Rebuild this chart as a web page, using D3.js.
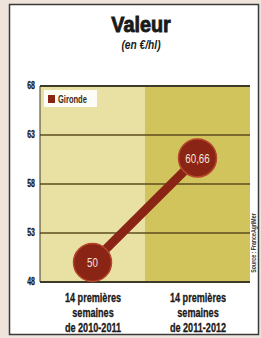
<!DOCTYPE html>
<html>
<head>
<meta charset="utf-8">
<script src="https://cdn.jsdelivr.net/npm/d3@7"></script>
<style>
  html, body { margin: 0; padding: 0; background: #efe4dc; }
  svg { display: block; }
  text { font-family: "Liberation Sans", Arial, sans-serif; }
</style>
</head>
<body>
<svg id="chart"></svg>
<script>
var categories = ["14 premières|semaines|de 2010-2011", "14 premières|semaines|de 2011-2012"];
var seriesName = "Gironde";
var values = [50, 60.66];
var valueLabels = ["50", "60,66"];
var yTicks = [48, 53, 58, 63, 68];

var W = 261, H = 338;
var margin = {top: 86, right: 11, bottom: 56, left: 40};
var width = W - margin.left - margin.right;
var height = H - margin.top - margin.bottom;

var svg = d3.select("#chart").attr("width", W).attr("height", H);

// narrow text: the original uses a condensed face, so squeeze horizontally
function narrow(parent, x, y, txt, size, sx) {
  return parent.append("text")
    .attr("transform", "translate(" + x + "," + y + ") scale(" + sx + ",1)")
    .style("font-size", size + "px")
    .text(txt);
}

// frame
svg.append("rect")
  .attr("x", 9.5).attr("y", 4.5)
  .attr("width", 249).attr("height", 330)
  .attr("fill", "#ffffff")
  .attr("stroke", "#3a3a3a")
  .attr("stroke-width", 1.5);

narrow(svg, 141, 32, "Valeur", 22, 0.9)
  .attr("text-anchor", "middle")
  .style("font-weight", "900")
  .attr("stroke", "#1a1a1a").attr("stroke-width", 0.9)
  .attr("fill", "#1a1a1a");

narrow(svg, 141, 49, "(en €/hl)", 12, 0.85)
  .attr("text-anchor", "middle")
  .style("font-weight", "bold").style("font-style", "italic")
  .attr("fill", "#1a1a1a");

var g = svg.append("g").attr("transform", "translate(" + margin.left + "," + margin.top + ")");

var x = d3.scalePoint().domain(categories).range([0, width]).padding(0.5);
var band = d3.scaleBand().domain(categories).range([0, width]);
var y = d3.scaleLinear().domain([48, 68]).range([height, 0]);

// background bands
var bandColors = ["#e9e1a3", "#d2c45c"];
g.selectAll("rect.bg").data(categories).enter().append("rect")
  .attr("class", "bg")
  .attr("x", d => band(d))
  .attr("y", 0)
  .attr("width", band.bandwidth())
  .attr("height", height)
  .attr("fill", (d, i) => bandColors[i]);

// grid lines
g.selectAll("line.grid").data(yTicks).enter().append("line")
  .attr("class", "grid")
  .attr("x1", 0).attr("x2", width)
  .attr("y1", d => y(d)).attr("y2", d => y(d))
  .attr("stroke", d => (d === 48 || d === 68) ? "#3d3a2a" : "#5c4c1e")
  .attr("stroke-width", d => (d === 48 || d === 68) ? 2 : 1.5);

g.append("line")
  .attr("x1", 0).attr("x2", 0).attr("y1", 0).attr("y2", height)
  .attr("stroke", "#3d3a2a").attr("stroke-width", 1);

// y tick labels
yTicks.forEach(function (d) {
  narrow(g, -5, y(d) + 3, d, 10, 0.7)
    .attr("text-anchor", "end")
    .style("font-weight", "bold")
    .attr("stroke", "#1a1a1a").attr("stroke-width", 0.3)
    .attr("fill", "#1a1a1a");
});

// line
var line = d3.line().x((d, i) => x(categories[i])).y(d => y(d));
g.append("path")
  .datum(values)
  .attr("fill", "none")
  .attr("stroke", "#8a2415")
  .attr("stroke-width", 9)
  .attr("d", line);

// points
g.selectAll("circle.pt").data(values).enter().append("circle")
  .attr("class", "pt")
  .attr("cx", (d, i) => x(categories[i]))
  .attr("cy", d => y(d))
  .attr("r", 19)
  .attr("fill", "#8a2415")
  .attr("stroke", "#b5462c")
  .attr("stroke-width", 1.5);

values.forEach(function (d, i) {
  narrow(g, x(categories[i]), y(d) + 5, valueLabels[i], 13, 0.75)
    .attr("text-anchor", "middle")
    .attr("fill", "#f4e4dc");
});

// legend
var legend = g.append("g").attr("transform", "translate(4,4)");
legend.append("rect").attr("width", 53).attr("height", 17).attr("fill", "#ffffff").attr("opacity", 0.9);
legend.append("rect").attr("x", 4).attr("y", 5).attr("width", 7).attr("height", 8).attr("fill", "#8a2415");
narrow(legend, 14, 12.5, seriesName, 10.5, 0.72)
  .style("font-weight", "bold")
  .attr("fill", "#3a2a1a");

// category labels
var xAxis = d3.axisBottom(x).tickSize(0).tickFormat("");
var xg = g.append("g").attr("transform", "translate(0," + height + ")").call(xAxis);
xg.select(".domain").remove();
xg.selectAll(".tick").each(function (d) {
  var tick = d3.select(this);
  d.split("|").forEach(function (s, i) {
    narrow(tick, 0, 20 + i * 15, s, 13, 0.7)
      .attr("text-anchor", "middle")
      .style("font-weight", "bold")
      .attr("stroke", "#1a1a1a").attr("stroke-width", 0.3)
      .attr("fill", "#1a1a1a");
  });
});

// source
svg.append("text")
  .attr("transform", "translate(256,243) rotate(-90) scale(0.75,1)")
  .attr("text-anchor", "middle")
  .style("font-size", "7px").style("font-weight", "bold")
  .attr("fill", "#333")
  .text("Source : FranceAgriMer");
</script>
</body>
</html>
